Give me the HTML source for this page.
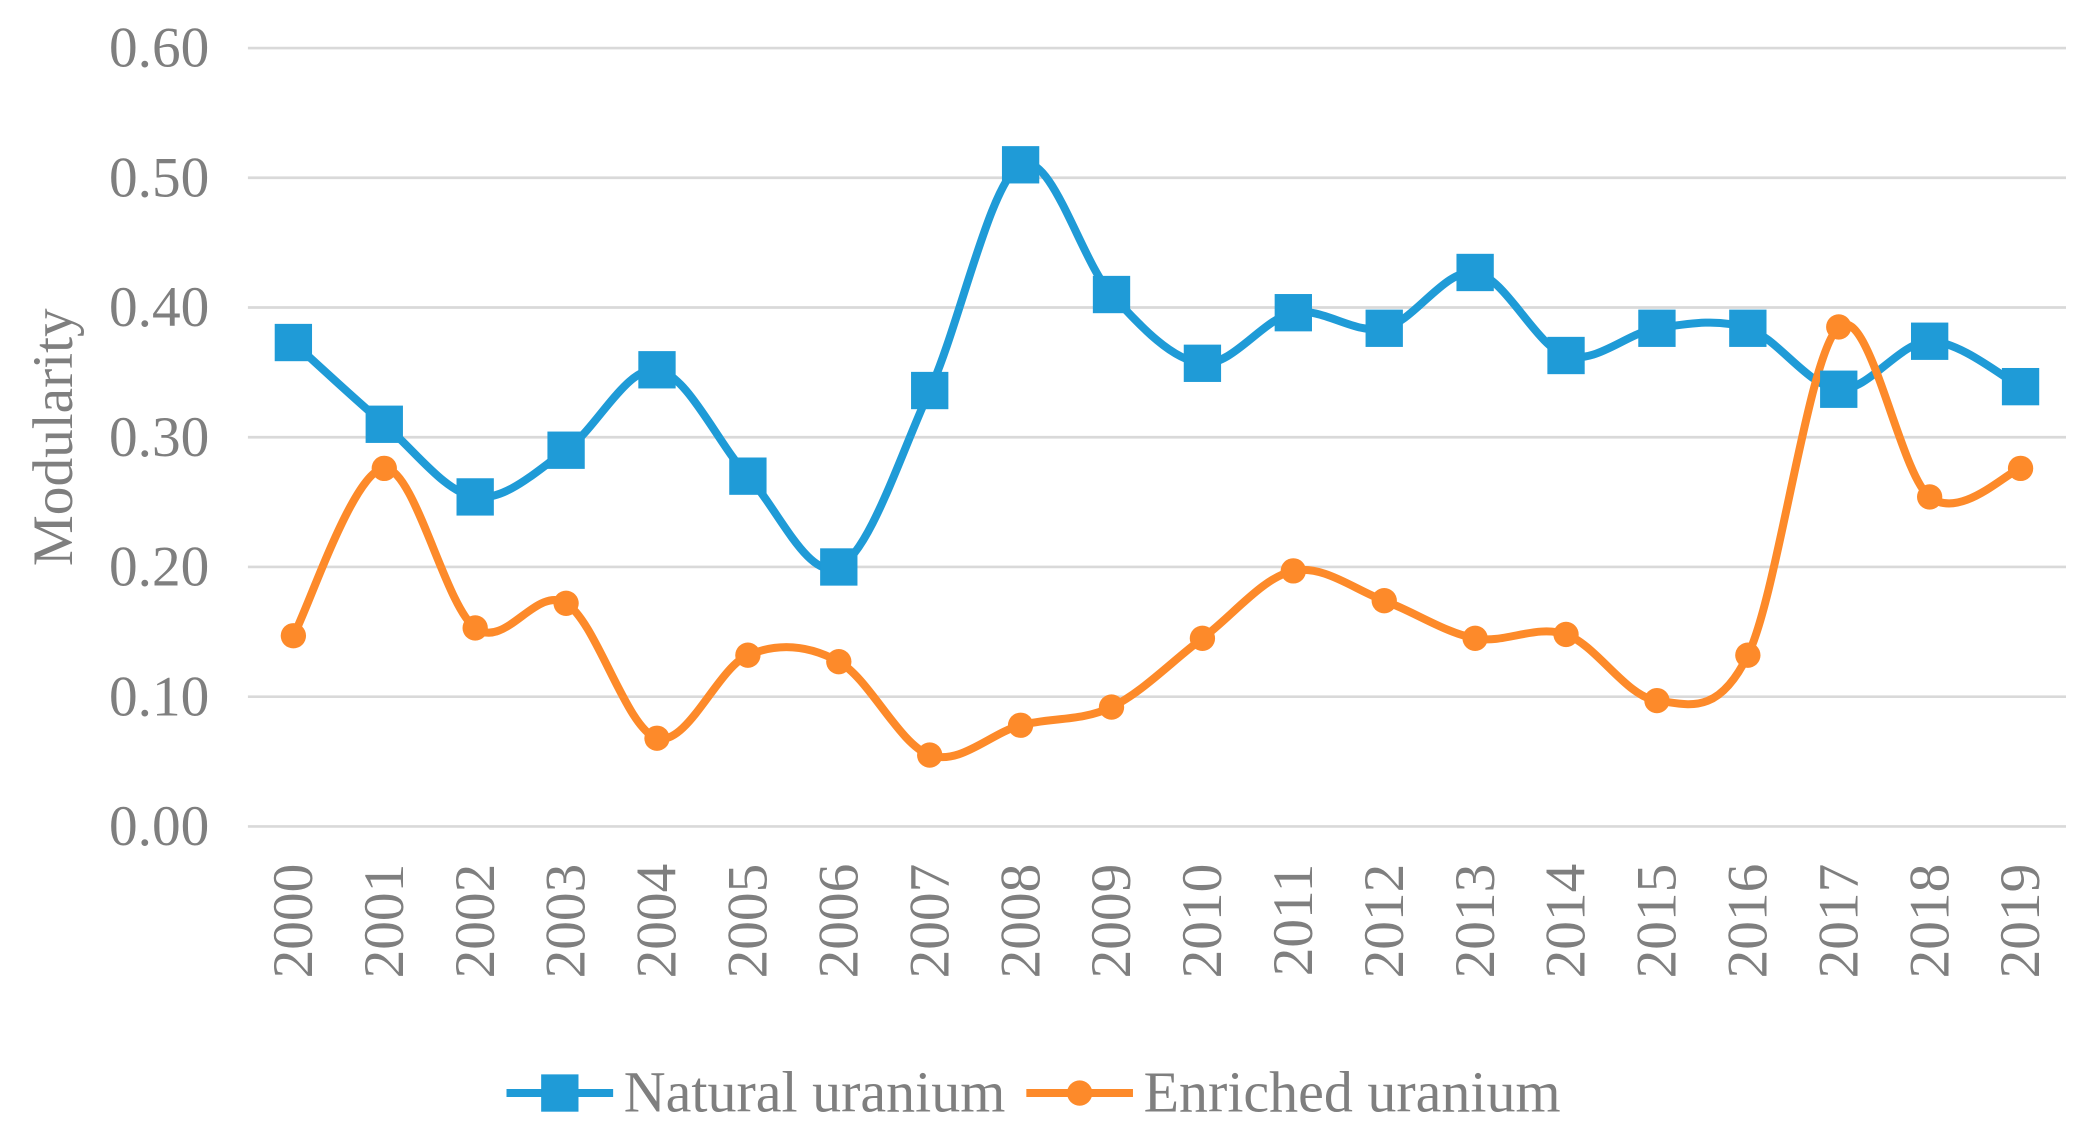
<!DOCTYPE html>
<html><head><meta charset="utf-8"><style>
html,body{margin:0;padding:0;background:#fff;}
svg{display:block;}
text{font-family:"Liberation Serif",serif;fill:#7f7f7f;}
</style></head><body>
<svg id="chart" width="2090" height="1130" viewBox="0 0 1568 847.7" xmlns="http://www.w3.org/2000/svg">
<g id="grid"></g>
<g id="yticks"></g>
<g id="xticks"></g>
<g id="series"></g>
<text transform="translate(54,328) rotate(-90)" text-anchor="middle" font-size="43">Modularity</text>
<g>
 <g>
  <line x1="380" y1="820" x2="460" y2="820" stroke="#1f9bd7" stroke-width="6"/>
  <rect x="406" y="806" width="28" height="28" fill="#1f9bd7"/>
  <text x="468" y="834" font-size="43.5">Natural uranium</text>
 </g>
 <g>
  <line x1="770" y1="820" x2="850" y2="820" stroke="#fd8a2a" stroke-width="6"/>
  <circle cx="810" cy="820" r="9.5" fill="#fd8a2a"/>
  <text x="858" y="834" font-size="43.5">Enriched uranium</text>
 </g>
</g>
</svg>
<script>
const years = ["2000","2001","2002","2003","2004","2005","2006","2007","2008","2009","2010","2011","2012","2013","2014","2015","2016","2017","2018","2019"];
const natural = [0.373,0.310,0.254,0.290,0.352,0.270,0.200,0.336,0.510,0.410,0.357,0.396,0.384,0.427,0.363,0.384,0.384,0.337,0.374,0.339];
const enriched = [0.147,0.276,0.153,0.172,0.068,0.132,0.127,0.055,0.078,0.092,0.145,0.197,0.174,0.145,0.148,0.097,0.132,0.385,0.254,0.276];
const yTicks = [0,0.1,0.2,0.3,0.4,0.5,0.6];

(function(){
const NS="http://www.w3.org/2000/svg";
const plotLeft=186,plotRight=1550,plotTop=36,plotBottom=620,ymax=0.6;
const band=(plotRight-plotLeft)/years.length;
const xs=i=>plotLeft+band*(i+0.5);
const ys=v=>plotBottom-(v/ymax)*(plotBottom-plotTop);
function mk(tag,attrs,parent){const e=document.createElementNS(NS,tag);for(const k in attrs)e.setAttribute(k,attrs[k]);parent.appendChild(e);return e;}
const grid=document.getElementById('grid'),yt=document.getElementById('yticks'),xt=document.getElementById('xticks'),ser=document.getElementById('series');
yTicks.forEach(t=>{
 const l=mk('line',{x1:plotLeft,x2:plotRight,y1:ys(t),y2:ys(t),stroke:'#d9d9d9','stroke-width':2},grid);
 
 
 const tx=mk('text',{x:157,y:ys(t)+14,'text-anchor':'end','font-size':43},yt);
 tx.textContent=t.toFixed(2);
 
 
});
years.forEach((y,i)=>{
 const tx=mk('text',{transform:`translate(${xs(i)+14},648) rotate(-90)`,'text-anchor':'end','font-size':43},xt);
 tx.textContent=y;
 
 
});
function smooth(vals){
 const p=vals.map((v,i)=>[xs(i),ys(v)]);
 let d=`M${p[0][0]},${p[0][1]}`;
 for(let i=0;i<p.length-1;i++){
  const p0=p[Math.max(0,i-1)],p1=p[i],p2=p[i+1],p3=p[Math.min(p.length-1,i+2)];
  const c1=[p1[0]+(p2[0]-p0[0])/6,p1[1]+(p2[1]-p0[1])/6];
  const c2=[p2[0]-(p3[0]-p1[0])/6,p2[1]-(p3[1]-p1[1])/6];
  d+=` C${c1[0]},${c1[1]} ${c2[0]},${c2[1]} ${p2[0]},${p2[1]}`;
 }
 return d;
}
const ln=mk('path',{d:smooth(natural),fill:'none',stroke:'#1f9bd7','stroke-width':6,'stroke-linejoin':'round'},ser);


const le=mk('path',{d:smooth(enriched),fill:'none',stroke:'#fd8a2a','stroke-width':6,'stroke-linejoin':'round'},ser);


natural.forEach((v,i)=>{
 const r=mk('rect',{x:xs(i)-14,y:ys(v)-14,width:28,height:28,fill:'#1f9bd7'},ser);
 
 
});
enriched.forEach((v,i)=>{
 const c=mk('circle',{cx:xs(i),cy:ys(v),r:9.5,fill:'#fd8a2a'},ser);
 
 
});
})();
</script>
</body></html>
